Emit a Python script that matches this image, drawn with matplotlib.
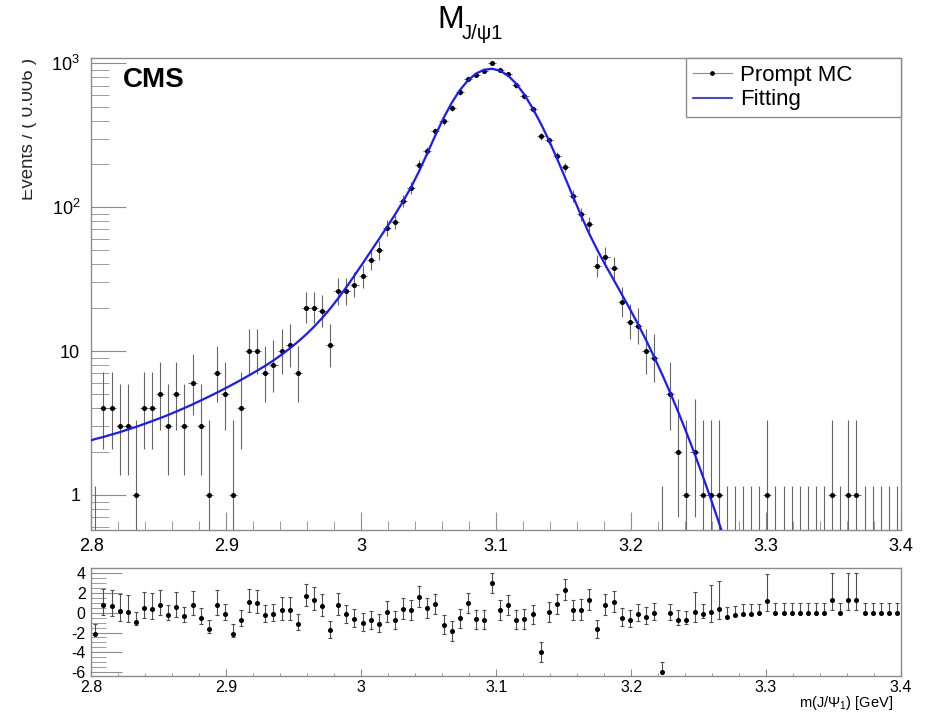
# -*- coding: UTF-8 -*-
from math import lgamma
import numpy as np
import matplotlib
matplotlib.use("Agg")
import matplotlib.pyplot as plt
from matplotlib.lines import Line2D
from matplotlib.patches import Rectangle
from matplotlib.ticker import MultipleLocator, LogLocator, FuncFormatter, NullFormatter

plt.rcParams['font.family'] = ['Liberation Sans', 'DejaVu Sans']
plt.rcParams['mathtext.fontset'] = 'custom'
plt.rcParams['mathtext.rm'] = 'Liberation Sans'
plt.rcParams['mathtext.it'] = 'Liberation Sans:italic'

# binning of the histogram
x_min, x_max, n_bins = 2.8, 3.4, 100

# events per bin (Prompt MC)
counts = [0, 4, 4, 3, 3, 1, 4, 4, 5, 3,
          5, 3, 6, 3, 1, 7, 5, 1, 4, 10,
          10, 7, 8, 10, 11, 7, 20, 20, 19, 11,
          26, 26, 29, 33, 43, 50, 72, 79, 110, 136,
          197, 246, 336, 394, 486, 631, 783, 826, 885, 1000,
          899, 844, 701, 588, 484, 311, 291, 227, 189, 119,
          89, 76, 39, 45, 38, 22, 16, 15, 10, 9,
          0, 5, 2, 1, 2, 1, 1, 1, 0, 0,
          0, 0, 0, 1, 0, 0, 0, 0, 0, 0,
          0, 1, 0, 1, 1, 0, 0, 0, 0, 0]

# pull of every bin
pulls = [-2.13, 0.74, 0.68, 0.14, 0.03, -0.91, 0.44, 0.37, 0.74, -0.20,
         0.57, -0.37, 0.74, -0.54, -1.69, 0.81, -0.10, -2.13, -0.71, 1.08,
         0.95, -0.20, -0.10, 0.24, 0.24, -1.11, 1.69, 1.32, 0.64, -1.79,
         0.74, -0.17, -0.64, -1.05, -0.78, -1.11, 0.07, -0.78, 0.41, 0.24,
         1.62, 0.47, 0.88, -1.22, -1.86, -0.57, 0.98, -0.68, -0.71, 3.00,
         0.30, 0.81, -0.71, -0.64, -0.17, -3.99, 0.07, 0.84, 2.33, 0.24,
         0.24, 1.25, -1.69, 0.78, 1.05, -0.54, -0.71, -0.10, -0.44, -0.03,
         -5.98, -0.07, -0.71, -0.78, 0.03, -0.14, 0.03, 0.41, -0.41, -0.27,
         -0.14, -0.10, -0.07, 1.18, 0.0, 0.0, 0.0, 0.0, 0.0, 0.0,
         0.0, 1.25, 0.0, 1.25, 1.25, 0.0, 0.0, 0.0, 0.0, 0.0]

# fitted model
fit_x = [2.800, 2.803, 2.809, 2.815, 2.821, 2.827, 2.833, 2.839, 2.845, 2.851,
         2.857, 2.863, 2.869, 2.875, 2.881, 2.887, 2.893, 2.899, 2.905, 2.911,
         2.917, 2.923, 2.929, 2.935, 2.941, 2.947, 2.953, 2.959, 2.965, 2.971,
         2.977, 2.983, 2.989, 2.995, 3.001, 3.007, 3.013, 3.019, 3.025, 3.031,
         3.037, 3.043, 3.049, 3.055, 3.061, 3.067, 3.073, 3.079, 3.085, 3.091,
         3.097, 3.103, 3.109, 3.115, 3.121, 3.127, 3.133, 3.139, 3.145, 3.151,
         3.157, 3.163, 3.169, 3.175, 3.181, 3.187, 3.193, 3.199, 3.205, 3.211,
         3.217, 3.223, 3.229, 3.235, 3.241, 3.247, 3.253, 3.259, 3.265, 3.271,
         3.277]
fit_y = [2.40, 2.45, 2.53, 2.63, 2.73, 2.85, 2.97, 3.11, 3.26, 3.42,
         3.60, 3.80, 4.02, 4.26, 4.53, 4.82, 5.14, 5.49, 5.88, 6.31,
         6.79, 7.32, 7.91, 8.61, 9.44, 10.42, 11.59, 13.0, 14.76, 16.94,
         19.72, 23.28, 27.8, 33.5, 40.55, 49.2, 59.7, 72.6, 88.7, 109.6,
         138.0, 178.6, 237.1, 316.2, 415.9, 529.7, 648.6, 758.6, 847.2, 901.6,
         916.2, 887.2, 818.4, 719.5, 603.9, 487.5, 382.8, 293.1, 218.8, 161.1,
         118.3, 87.3, 65.3, 50.4, 39.5, 31.4, 24.9, 19.7, 15.45, 11.97,
         9.14, 6.89, 5.13, 3.76, 2.72, 1.94, 1.36, 0.944, 0.646, 0.436,
         0.290]

axis_grey = '0.55'
alpha = 0.317311


def pois_cdf(k, lam):
    i = np.arange(k + 1)
    logfact = np.array([lgamma(j + 1) for j in i])
    return np.exp(-lam + i * np.log(lam) - logfact).sum()


def solve_lambda(k, target):
    lo, hi = 1e-9, k + 10 * np.sqrt(k + 1) + 10
    for _ in range(60):
        mid = 0.5 * (lo + hi)
        if pois_cdf(k, mid) > target:
            lo = mid
        else:
            hi = mid
    return 0.5 * (lo + hi)


"""
68% central Poisson interval (RooFit convention), returns (err_low, err_high)
"""
def poisson_errors(n):
    if n == 0:
        return 0.0, -np.log(alpha)
    low = solve_lambda(n - 1, 1 - alpha / 2)
    up = solve_lambda(n, alpha / 2)
    return n - low, up - n


def style_axis(ax):
    for s in ax.spines.values():
        s.set_color(axis_grey)
        s.set_linewidth(1.0)
    ax.tick_params(which='both', direction='in', color=axis_grey,
                   top=False, right=False, labelcolor='black')


def main():
    edges = np.linspace(x_min, x_max, n_bins + 1)
    centers = 0.5 * (edges[1:] + edges[:-1])
    half_w = 0.5 * (edges[1] - edges[0])
    n = np.array(counts)
    p = np.array(pulls)
    errs = np.array([poisson_errors(int(v)) for v in n])
    el, eh = errs[:, 0], errs[:, 1]

    fig = plt.figure(figsize=(9.27, 7.16), dpi=100)
    W, H = 927.0, 716.0
    ax = fig.add_axes([91.3 / W, 1 - 530 / H, (901 - 91.3) / W, (530 - 58.3) / H])
    axp = fig.add_axes([91.3 / W, 1 - 675.7 / H, (901 - 91.3) / W, (675.7 - 568.3) / H])

    # ---- main panel
    nz = n > 0
    ax.errorbar(centers[nz], n[nz], xerr=half_w, yerr=[el[nz], eh[nz]],
                fmt='o', ms=2.6, mfc='black', mec='black', ecolor='0.4',
                elinewidth=0.8, capsize=0, zorder=3)
    ax.vlines(centers[~nz], 1e-3, eh[~nz], colors='0.4', lw=0.8, zorder=3)
    ax.plot(fit_x, fit_y, color='#1a1aff', lw=1.6, zorder=4)

    ax.set_yscale('log')
    ax.set_xlim(x_min, x_max)
    ax.set_ylim(0.571, 1083)
    style_axis(ax)
    ax.xaxis.set_major_locator(MultipleLocator(0.1))
    ax.xaxis.set_minor_locator(MultipleLocator(0.02))
    ax.xaxis.set_major_formatter(FuncFormatter(lambda v, pos: '%g' % round(v, 3)))
    ax.yaxis.set_major_locator(LogLocator(base=10, numticks=10))
    ax.yaxis.set_minor_locator(LogLocator(base=10, subs=np.arange(2, 10), numticks=20))
    ax.yaxis.set_minor_formatter(NullFormatter())

    def log_fmt(v, pos):
        e = int(round(np.log10(v)))
        if e == 0:
            return '1'
        if e == 1:
            return '10'
        return r'$\mathdefault{10^{%d}}$' % e
    ax.yaxis.set_major_formatter(FuncFormatter(log_fmt))
    ax.tick_params(axis='x', which='major', length=13, labelsize=13, pad=6)
    ax.tick_params(axis='x', which='minor', length=6.5)
    ax.tick_params(axis='y', which='major', length=25, labelsize=13, pad=8)
    ax.tick_params(axis='y', which='minor', length=13)

    ax.text((123 - 91.3) / (901 - 91.3), 1 - (87 - 58.3) / (530 - 58.3), 'CMS',
            transform=ax.transAxes, fontsize=20, fontweight='bold', va='baseline', ha='left')

    h_mc = Line2D([], [], color='0.55', lw=0.8, marker='o', ms=2.4, mfc='black', mec='black')
    h_fit = Line2D([], [], color='#1a1aff', lw=1.2)
    x0 = (686 - 91.3) / (901 - 91.3)
    leg = ax.legend([h_mc, h_fit], ['Prompt MC', 'Fitting'], loc='upper left',
                    bbox_to_anchor=(x0, 0.0, 1 - x0, 1.0), mode='expand',
                    fontsize=16, frameon=True, fancybox=False, framealpha=1,
                    edgecolor=axis_grey, borderaxespad=0, borderpad=0.3,
                    labelspacing=0.15, handlelength=1.75, handletextpad=0.4)
    leg.get_frame().set_linewidth(1.0)

    # ---- pull panel
    lo = np.where(p > 0, 1.0, np.where(eh > 0, el / eh, 0.0))
    hi = np.where(p > 0, np.where(el > 0, eh / np.maximum(el, 1e-9), 1.0), 1.0)
    axp.errorbar(centers, p, yerr=[lo, hi], fmt='o', ms=2.6, mfc='black', mec='black',
                 ecolor='0.3', elinewidth=0.8, capsize=1.5, capthick=0.8)
    axp.set_xlim(x_min, x_max)
    axp.set_ylim(-6.37, 4.5)
    style_axis(axp)
    axp.xaxis.set_major_locator(MultipleLocator(0.1))
    axp.xaxis.set_minor_locator(MultipleLocator(0.02))
    axp.xaxis.set_major_formatter(FuncFormatter(lambda v, pos: '%g' % round(v, 3)))
    axp.yaxis.set_major_locator(MultipleLocator(2))
    axp.yaxis.set_minor_locator(MultipleLocator(0.5))
    axp.yaxis.set_major_formatter(FuncFormatter(lambda v, pos: '%d' % round(v)))
    axp.tick_params(axis='x', which='major', length=5, labelsize=11.5, pad=3)
    axp.tick_params(axis='x', which='minor', length=2.5)
    axp.tick_params(axis='y', which='major', length=22, labelsize=11.5, pad=4)
    axp.tick_params(axis='y', which='minor', length=11)

    fig.text(893 / W, 1 - 707 / H, r'm(J/$\mathrm{\Psi}_{1}$) [GeV]', fontsize=10.5,
             ha='right', va='baseline')

    # title
    fig.text(437 / W, 1 - 28 / H, 'M', fontsize=23, ha='left', va='baseline')
    fig.text(462 / W, 1 - 39 / H, 'J/\u03c81', fontsize=14.5, ha='left', va='baseline')

    # y title, cut by the left border of the canvas
    fig.text(37.5 / W, 1 - 58 / H, 'Events / ( 0.006 )', fontsize=13.4, rotation=90,
             ha='right', va='top', color='0.15', zorder=3)
    fig.add_artist(Rectangle((0, 0), 22 / W, 1, transform=fig.transFigure,
                             facecolor='white', edgecolor='none', zorder=10))

    fig.savefig('out.png', dpi=100)


if __name__ == '__main__':
    main()
